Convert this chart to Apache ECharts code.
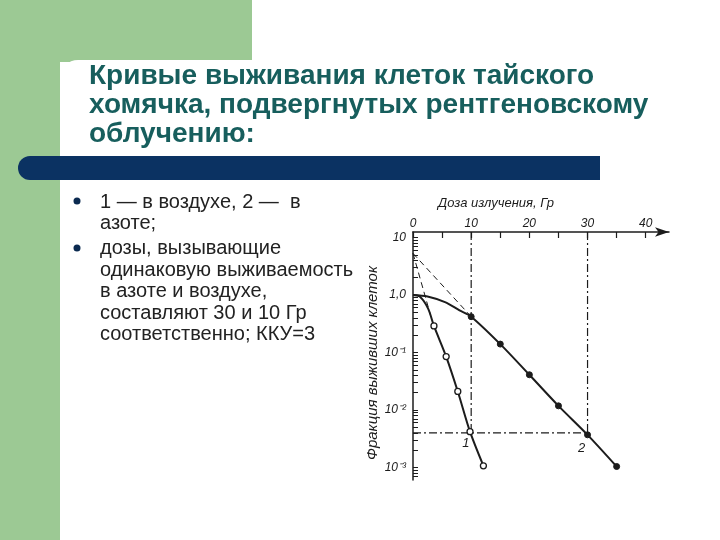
<!DOCTYPE html>
<html>
<head>
<meta charset="utf-8">
<script src="https://cdn.jsdelivr.net/npm/echarts@6/dist/echarts.min.js"></script>
<style>
  html, body { margin: 0; padding: 0; background: #fff; }
  #chart { width: 720px; height: 540px; }
</style>
</head>
<body>
<div id="chart"></div>
<script>
// Кривые выживания: доза (Гр) -> фракция выживших клеток
const airDose = [0, 1.2, 2.6, 3.6, 5.7, 7.7, 9.8, 12.1];
const airSurv = [1.0, 0.93, 0.58, 0.29, 0.085, 0.021, 0.0042, 0.00107];
const nitroDose = [0, 2.5, 5.5, 8.0, 10, 15, 20, 25, 30, 35];
const nitroSurv = [1.0, 0.94, 0.75, 0.54, 0.42, 0.14, 0.041, 0.0118, 0.0037, 0.00104];
// точки без маркеров (плечо кривой)
const airNoMark = 3;
const nitroNoMark = 4;

// экстраполяция экспоненциальных участков
const extrapAir = [[0, 5.3], [3.0, 0.45]];
const extrapNitro = [[0, 5.3], [10, 0.42]];

// равная выживаемость: 10 Гр (воздух) и 30 Гр (азот)
const equalDose = [10, 30];
const equalLevel = 0.004;
const axisTop = 12.46;

const xTickValues = [0, 5, 10, 15, 20, 25, 30, 35, 40];
const xLabelValues = [0, 10, 20, 30, 40];
const yLabelValues = [10, 1, 0.1, 0.01, 0.001];
const yLabelText = ['10', '1,0', '10⁻¹', '10⁻²', '10⁻³'];

const yMinorTicks = [];
for (let d = -4; d <= 1; d++) {
    for (let k = 1; k <= 9; k++) {
        const v = k * Math.pow(10, d);
        if (v > 6.1e-4 && v < 12.4) yMinorTicks.push(v);
    }
}

function pts(xs, ys, noMark) {
    return xs.map((x, i) => i < noMark
        ? { value: [x, ys[i]], symbol: 'none' }
        : [x, ys[i]]);
}

const ink = '#1c1c1c';
const green = '#9cc994';
const chartFont = '"Liberation Sans", Arial, sans-serif';

const airData = pts(airDose, airSurv, airNoMark);
airData[6] = { value: [airDose[6], airSurv[6]],
    label: { show: true, formatter: '1', position: [-4, 9], fontStyle: 'italic', fontSize: 13, color: ink } };
const nitroData = pts(nitroDose, nitroSurv, nitroNoMark);
nitroData[8] = { value: [nitroDose[8], nitroSurv[8]],
    label: { show: true, formatter: '2', position: [-6, 11], fontStyle: 'italic', fontSize: 13, color: ink } };

const chart = echarts.init(document.getElementById('chart'));

const option = {
    backgroundColor: '#ffffff',
    animation: false,
    graphic: [
        { type: 'rect', shape: { x: 0, y: 0, width: 252, height: 62 }, style: { fill: green }, z: -10 },
        { type: 'rect', shape: { x: 0, y: 0, width: 60, height: 540 }, style: { fill: green }, z: -10 },
        { type: 'rect', shape: { x: 60, y: 60, width: 660, height: 480, r: [18, 0, 0, 0] }, style: { fill: '#ffffff' }, z: -9 },
        { type: 'rect', shape: { x: 18, y: 156, width: 582, height: 24, r: [12, 0, 0, 12] }, style: { fill: '#0b3262' }, z: -8 },
        {
            type: 'text', x: 89, y: 62, z: 5,
            style: {
                text: 'Кривые выживания клеток тайского\nхомячка, подвергнутых рентгеновскому\nоблучению:',
                font: 'bold 28px "Liberation Sans", Arial, sans-serif',
                fill: '#175e5d', lineHeight: 29, verticalAlign: 'top'
            }
        },
        { type: 'circle', shape: { cx: 77, cy: 201, r: 3.5 }, style: { fill: '#0b2a50' } },
        { type: 'circle', shape: { cx: 77, cy: 248, r: 3.5 }, style: { fill: '#0b2a50' } },
        {
            type: 'text', x: 100, y: 192, z: 5,
            style: {
                text: '1 — в воздухе, 2 —  в\nазоте;',
                font: '20px "Liberation Sans", Arial, sans-serif',
                fill: '#222222', lineHeight: 21, verticalAlign: 'top'
            }
        },
        {
            type: 'text', x: 100, y: 238, z: 5,
            style: {
                text: 'дозы, вызывающие\nодинаковую выживаемость\nв азоте и воздухе,\nсоставляют 30 и 10 Гр\nсоответственно; ККУ=3',
                font: '20px "Liberation Sans", Arial, sans-serif',
                fill: '#222222', lineHeight: 21.5, verticalAlign: 'top'
            }
        }
    ],
    grid: { left: 413, top: 232, right: 51, bottom: 60 },
    xAxis: {
        type: 'value',
        position: 'top',
        min: 0,
        max: 44,
        name: 'Доза излучения, Гр',
        nameLocation: 'middle',
        nameGap: 22,
        nameTextStyle: { fontStyle: 'italic', fontSize: 13, color: ink, fontFamily: chartFont, padding: [0, 90, 0, 0] },
        axisLine: { lineStyle: { color: ink, width: 1.5 }, symbol: ['none', 'arrow'], symbolSize: [7, 14] },
        axisTick: { inside: true, length: 6, customValues: xTickValues, lineStyle: { color: ink, width: 1.2 } },
        axisLabel: { customValues: xLabelValues, fontStyle: 'italic', fontSize: 12, color: ink, fontFamily: chartFont, margin: 2 },
        splitLine: { show: false }
    },
    yAxis: {
        type: 'log',
        logBase: 10,
        min: 6.06e-4,
        max: axisTop,
        name: 'Фракция выживших клеток',
        nameLocation: 'middle',
        nameGap: 31,
        nameRotate: 90,
        nameTextStyle: { fontStyle: 'italic', fontSize: 15, color: ink, fontFamily: chartFont, padding: [0, 14, 0, 0] },
        axisLine: { lineStyle: { color: ink, width: 1.5 } },
        axisTick: { inside: true, length: 5, customValues: yMinorTicks, lineStyle: { color: ink, width: 1 } },
        axisLabel: {
            customValues: yLabelValues,
            formatter: v => {
                const i = yLabelValues.findIndex(t => Math.abs(Math.log10(t) - Math.log10(v)) < 1e-6);
                return i >= 0 ? yLabelText[i] : '';
            },
            fontStyle: 'italic', fontSize: 12, color: ink, fontFamily: chartFont, margin: 7
        },
        splitLine: { show: false }
    },
    series: [
        {
            type: 'line', data: [[equalDose[0], axisTop], [equalDose[0], equalLevel]],
            symbol: 'none', silent: true,
            lineStyle: { color: ink, width: 1.2, type: [8, 3, 2, 3] }
        },
        {
            type: 'line', data: [[equalDose[1], axisTop], [equalDose[1], equalLevel]],
            symbol: 'none', silent: true,
            lineStyle: { color: ink, width: 1.2, type: [8, 3, 2, 3] }
        },
        {
            type: 'line', data: [[0, equalLevel], [equalDose[1], equalLevel]],
            symbol: 'none', silent: true,
            lineStyle: { color: ink, width: 1.2, type: [8, 3, 2, 3] }
        },
        {
            type: 'line', data: extrapAir, symbol: 'none', silent: true,
            lineStyle: { color: ink, width: 1, type: [6, 4] }
        },
        {
            type: 'line', data: extrapNitro, symbol: 'none', silent: true,
            lineStyle: { color: ink, width: 1, type: [6, 4] }
        },
        {
            name: 'воздух', type: 'line', data: airData, smooth: 0.3,
            symbol: 'circle', symbolSize: 6,
            itemStyle: { color: '#ffffff', borderColor: ink, borderWidth: 1.3 },
            lineStyle: { color: ink, width: 2 }, z: 5
        },
        {
            name: 'азот', type: 'line', data: nitroData, smooth: 0.3,
            symbol: 'circle', symbolSize: 6,
            itemStyle: { color: ink, borderColor: ink },
            lineStyle: { color: ink, width: 2 }, z: 5
        }
    ]
};

chart.setOption(option);
</script>
</body>
</html>
